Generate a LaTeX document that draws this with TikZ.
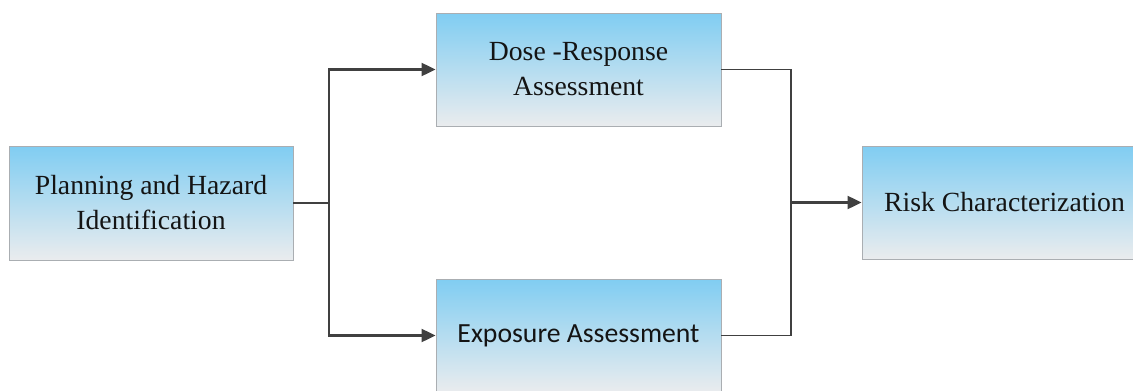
\documentclass[tikz,border=0pt]{standalone}
\usepackage{fontspec}
\setmainfont{Liberation Serif}
\newfontfamily\tnr{Liberation Serif}
\newfontfamily\calib{Carlito}
\usetikzlibrary{arrows.meta}
\definecolor{boxtop}{RGB}{128,205,242}
\definecolor{boxbot}{RGB}{234,236,238}
\definecolor{boxline}{RGB}{170,174,178}
\definecolor{conn}{RGB}{64,64,64}
\tikzset{
  stagebox/.style={draw=boxline, line width=0.9pt, top color=boxtop, bottom color=boxbot,
    minimum width=285pt, minimum height=113pt, inner sep=0pt, align=center,
    font=\tnr\fontsize{27.7}{35}\selectfont, text=black!92},
  link/.style={draw=conn, line width=2.2pt},
  thinlink/.style={draw=conn, line width=1.6pt},
  tip/.style={-{Triangle[length=14pt,width=13pt]}}
}
\begin{document}
\begin{tikzpicture}[x=1pt,y=-1pt]
\clip (0,0) rectangle (1133,391);
\fill[white] (0,0) rectangle (1133,391);
\node[stagebox, minimum width=284pt, minimum height=114pt] (phi) at (151,203) {Planning and Hazard\\Identification};
\node[stagebox] (dr) at (578.5,69.5) {Dose -Response\\Assessment};
\node[stagebox, font=\calib\fontsize{27.7}{35}\selectfont] (ea) at (578.5,335.5) {Exposure Assessment};
\node[stagebox] (rc) at (1004.5,202.5) {Risk Characterization};
\coordinate (j1) at (329,203);
\coordinate (j2) at (791,202.5);
\draw[link] (phi.east) -- (j1);
\draw[link, tip] (j1) |- (dr.west);
\draw[link, tip] (j1) |- (ea.west);
\draw[thinlink] (dr.east) -| (j2);
\draw[thinlink] (ea.east) -| (j2);
\draw[link, tip] (j2) -- (rc.west);
\end{tikzpicture}
\end{document}
